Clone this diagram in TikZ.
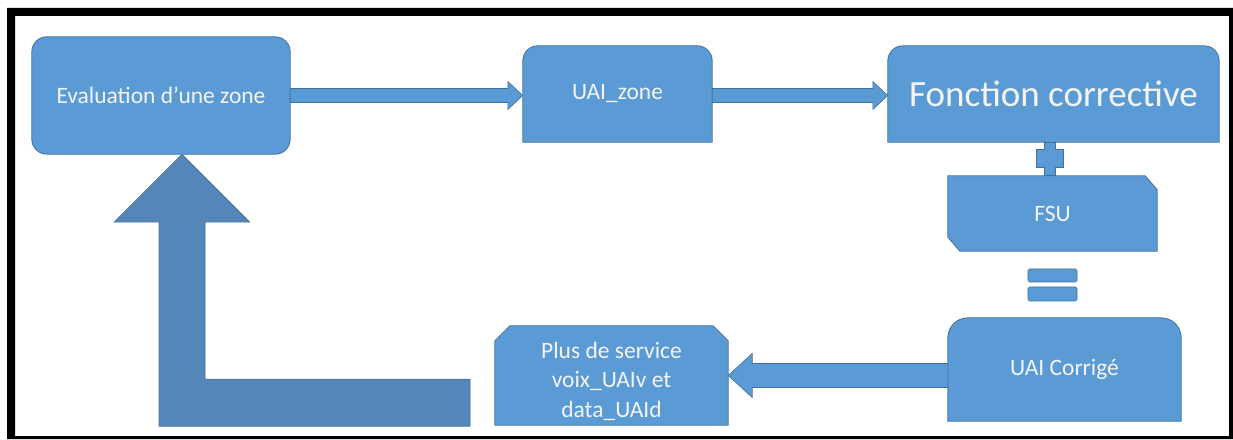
\documentclass[tikz,border=0pt]{standalone}
\usepackage{fontspec}
\setmainfont{Carlito}
\usetikzlibrary{calc}
\pgfdeclarelayer{back}
\pgfdeclarelayer{bg}
\pgfsetlayers{back,bg,main}
\definecolor{boxblue}{RGB}{91,155,213}
\definecolor{boxedge}{RGB}{65,113,156}
\definecolor{lblue}{RGB}{84,134,183}
\definecolor{txt}{RGB}{244,244,244}
\begin{document}
\begin{tikzpicture}[x=1pt,y=1pt,
  lbl/.style={inner sep=0pt, text=txt, font=\fontsize{23.5}{29.5}\selectfont, align=center},
  boxshape/.style={fill=boxblue, draw=boxedge, line width=0.8pt},
  arr/.style={fill=boxblue, draw=boxedge, line width=0.6pt, line join=miter},
  bigarr/.style={fill=lblue, draw=lblue!85!black, line width=0.6pt, line join=miter},
  eqbar/.style={fill=boxblue, draw=boxedge, line width=0.6pt, rounded corners=1.5pt, inner sep=0pt}]
\useasboundingbox (0,0) rectangle (1233,439);
\begin{pgfonlayer}{back}
\fill[white] (0,0) rectangle (1233,439);
\fill[black, even odd rule] (7,0) rectangle (1233,431) (15,3) rectangle (1229,423);
\end{pgfonlayer}

% nodes
\node[lbl, minimum width=258pt, minimum height=117pt] (ev) at (161,343.5) {Evaluation d’une zone};
\node[lbl, minimum width=189pt, minimum height=96pt] (uz) at (617.5,345) {UAI\_zone};
\node[lbl, font=\fontsize{37}{44}\selectfont, minimum width=331pt, minimum height=96pt] (fc) at (1053.5,345) {Fonction corrective};
\node[lbl, minimum width=209pt, minimum height=75pt] (fsu) at (1052.5,225.5) {FSU};
\node[lbl, minimum width=233pt, minimum height=103pt] (uc) at (1064.5,69.5) {UAI Corrigé};
\node[inner sep=0pt, minimum width=233pt, minimum height=99pt] (pl) at (611.5,63.5) {};
\node[lbl] (pltxt) at ($(pl.center)+(0,-5.5)$) {Plus de service\\voix\_UAIv et\\data\_UAId};
\node[eqbar, minimum width=49pt, minimum height=13pt] (eq1) at (1052.5,163.5) {};
\node[eqbar, minimum width=49pt, minimum height=14pt] (eq2) at (1052.5,145) {};
\coordinate (pc) at (1049.5,280.5);
\coordinate (Ltip) at ($(ev.south)+(21,0)$);

\begin{pgfonlayer}{bg}
% shapes
\draw[boxshape, rounded corners=15pt] (ev.south west) rectangle (ev.north east);
\draw[boxshape] (uz.south west) -- ($(uz.north west)+(0,-15)$) arc[start angle=180,end angle=90,radius=15pt]
  -- ($(uz.north east)+(-15,0)$) arc[start angle=90,end angle=0,radius=15pt] -- (uz.south east) -- cycle;
\draw[boxshape] (fc.south west) -- ($(fc.north west)+(0,-15)$) arc[start angle=180,end angle=90,radius=15pt]
  -- ($(fc.north east)+(-15,0)$) arc[start angle=90,end angle=0,radius=15pt] -- (fc.south east) -- cycle;
\draw[boxshape] (uc.south west) -- ($(uc.north west)+(0,-20)$) arc[start angle=180,end angle=90,radius=20pt]
  -- ($(uc.north east)+(-20,0)$) arc[start angle=90,end angle=0,radius=20pt] -- (uc.south east) -- cycle;
\draw[boxshape] ($(fsu.south west)+(12,0)$) -- (fsu.south east) -- ($(fsu.north east)+(0,-14)$)
  -- ($(fsu.north east)+(-12,0)$) -- (fsu.north west) -- ($(fsu.south west)+(0,14)$) -- cycle;
\draw[boxshape] (pl.south west) -- ($(pl.north west)+(0,-15)$) -- ($(pl.north west)+(15,0)$)
  -- ($(pl.north east)+(-15,0)$) -- ($(pl.north east)+(0,-15)$) -- (pl.south east) -- cycle;
\end{pgfonlayer}

% connectors
\draw[arr] ($(ev.east)+(0,7)$) -- ($(uz.west|-ev.east)+(-15,7)$) -- ++(0,7) -- (uz.west|-ev.east)
  -- ++(-15,-14) -- ++(0,7) -- ($(ev.east)+(0,-7)$) -- cycle;
\draw[arr] ($(uz.east|-ev.east)+(0,7)$) -- ($(fc.west|-ev.east)+(-15,7)$) -- ++(0,7) -- (fc.west|-ev.east)
  -- ++(-15,-14) -- ++(0,7) -- ($(uz.east|-ev.east)+(0,-7)$) -- cycle;
\draw[arr] ($(uc.west|-pl.east)+(0,12)$) -- ($(pl.east)+(24,12)$) -- ++(0,10) -- (pl.east)
  -- ++(24,-22) -- ++(0,10) -- ($(uc.west|-pl.east)+(0,-12)$) -- cycle;
\draw[arr] ($(pc)+(-5.5,16.5)$) -- ++(11,0) -- ++(0,-7.5) -- ++(8,0) -- ++(0,-18) -- ++(-8,0)
  -- ++(0,-7.5) -- ++(-11,0) -- ++(0,7.5) -- ++(-8,0) -- ++(0,18) -- ++(8,0) -- cycle;
\draw[bigarr] (Ltip) -- ++(68,-68) -- ++(-45,0) -- ++(0,-157) -- ++(265,0) -- ++(0,-47)
  -- ++(-311,0) -- ++(0,204) -- ++(-45,0) -- cycle;
\end{tikzpicture}
\end{document}
